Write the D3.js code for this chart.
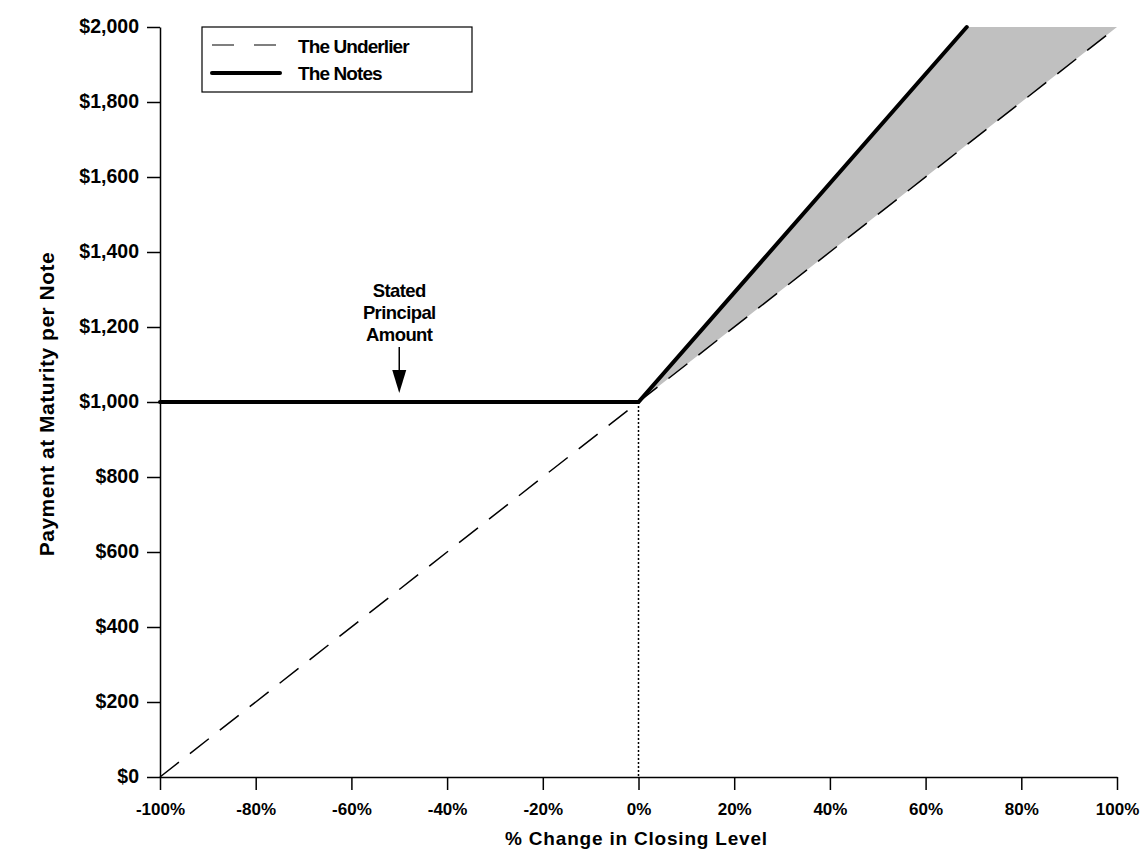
<!DOCTYPE html>
<html>
<head>
<meta charset="utf-8">
<script src="https://cdn.jsdelivr.net/npm/d3@7/dist/d3.min.js"></script>
<style>
  html, body { margin: 0; padding: 0; background: #fff; }
  svg text { font-family: "Liberation Sans", Arial, Helvetica, sans-serif; font-weight: bold; fill: #000; }
</style>
</head>
<body>
<svg id="chart" width="1145" height="867"></svg>
<script>
// ---- data ----
const xTicks = [-100, -80, -60, -40, -20, 0, 20, 40, 60, 80, 100];
const yTicks = [0, 200, 400, 600, 800, 1000, 1200, 1400, 1600, 1800, 2000];
const underlierX = [-100, 100];
const underlierY = [0, 2000];
const notesX = [-100, 0, 68.6];
const notesY = [1000, 1000, 2000];
const shadeX = [0, 68.6, 100];
const shadeTop = [1000, 2000, 2000];
const shadeBottom = [1000, 1686, 2000];
const legendLabels = ["The Underlier", "The Notes"];
const annotationLines = ["Stated", "Principal", "Amount"];
const annotationX = -50;
const annotationY = 1000;
const xTitle = "% Change in Closing Level";
const yTitle = "Payment at Maturity per Note";

// ---- layout ----
const svg = d3.select("#chart");
const pL = 160, pR = 1117, pT = 27, pB = 777;
const x = d3.scaleLinear().domain([-100, 100]).range([pL, pR]);
const y = d3.scaleLinear().domain([0, 2000]).range([pB, pT]);

// shaded region
const shadePts = shadeX.map((v, i) => [v, shadeTop[i]])
  .concat(shadeX.map((v, i) => [v, shadeBottom[i]]).reverse());
svg.append("path")
  .attr("d", d3.line().x(d => x(d[0])).y(d => y(d[1]))(shadePts) + "Z")
  .attr("fill", "#c0c0c0").attr("stroke", "none");

// dotted vertical at 0%
svg.append("line")
  .attr("x1", x(0)).attr("x2", x(0))
  .attr("y1", y(1000)).attr("y2", y(0))
  .attr("stroke", "#000").attr("stroke-width", 1.5)
  .attr("stroke-dasharray", "2,2");

// underlier dashed
svg.append("path")
  .attr("d", d3.line().x(d => x(d[0])).y(d => y(d[1]))(underlierX.map((v, i) => [v, underlierY[i]])))
  .attr("fill", "none").attr("stroke", "#000").attr("stroke-width", 1.5)
  .attr("stroke-dasharray", "24,14");

// notes
svg.append("path")
  .attr("d", d3.line().x(d => x(d[0])).y(d => y(d[1]))(notesX.map((v, i) => [v, notesY[i]])))
  .attr("fill", "none").attr("stroke", "#000").attr("stroke-width", 4)
  .attr("stroke-linejoin", "miter").attr("stroke-linecap", "round");

// axes
const fmtX = d => d + "%";
const fmtY = d => "$" + d3.format(",")(d);
const xAxis = svg.append("g").attr("transform", `translate(0,${pB})`)
  .call(d3.axisBottom(x).tickValues(xTicks).tickFormat(fmtX).tickSize(13).tickSizeOuter(0).tickPadding(8));
const yAxis = svg.append("g").attr("transform", `translate(${pL},0)`)
  .call(d3.axisLeft(y).tickValues(yTicks).tickFormat(fmtY).tickSize(13).tickSizeOuter(0).tickPadding(8));
[xAxis, yAxis].forEach(g => {
  g.selectAll("path.domain").attr("stroke", "#000").attr("stroke-width", 1.5);
  g.selectAll(".tick line").attr("stroke", "#000").attr("stroke-width", 1.5);
  g.selectAll("text").attr("font-family", "Liberation Sans, Arial, sans-serif")
    .attr("font-weight", "bold").attr("fill", "#000");
});
xAxis.selectAll("text").attr("font-size", 17).attr("dy", "1em");
yAxis.selectAll("text").attr("font-size", 19.5).attr("dy", "0.3em");

// axis titles
svg.append("text").attr("x", x(0) - 2).attr("y", 845)
  .attr("text-anchor", "middle").attr("font-size", 19).attr("letter-spacing", "0.8").text(xTitle);
svg.append("text")
  .attr("transform", `translate(54,${(pT + pB) / 2 + 2}) rotate(-90)`)
  .attr("text-anchor", "middle").attr("font-size", 21).attr("letter-spacing", "0.5").text(yTitle);

// legend
const lg = svg.append("g");
lg.append("rect").attr("x", 202).attr("y", 27).attr("width", 270).attr("height", 65)
  .attr("fill", "#fff").attr("stroke", "#000").attr("stroke-width", 1.2);
lg.append("line").attr("x1", 212).attr("x2", 280).attr("y1", 45).attr("y2", 45)
  .attr("stroke", "#000").attr("stroke-width", 1.2).attr("stroke-dasharray", "22,20");
lg.append("line").attr("x1", 212).attr("x2", 280).attr("y1", 73).attr("y2", 73)
  .attr("stroke", "#000").attr("stroke-width", 4).attr("stroke-linecap", "round");
legendLabels.forEach((t, i) => {
  lg.append("text").attr("x", 298).attr("y", 53 + i * 27).attr("font-size", 19)
    .attr("letter-spacing", "-0.9").text(t);
});

// annotation
const ax = x(annotationX);
annotationLines.forEach((t, i) => {
  svg.append("text").attr("x", ax).attr("y", 297 + i * 22)
    .attr("text-anchor", "middle").attr("font-size", 18.5).attr("letter-spacing", "-0.6").text(t);
});
svg.append("line").attr("x1", ax).attr("x2", ax).attr("y1", 347).attr("y2", 372)
  .attr("stroke", "#000").attr("stroke-width", 1.5);
svg.append("path")
  .attr("d", `M${ax - 7},370 L${ax + 7},370 L${ax},${y(annotationY) - 9} Z`)
  .attr("fill", "#000");
</script>
</body>
</html>
